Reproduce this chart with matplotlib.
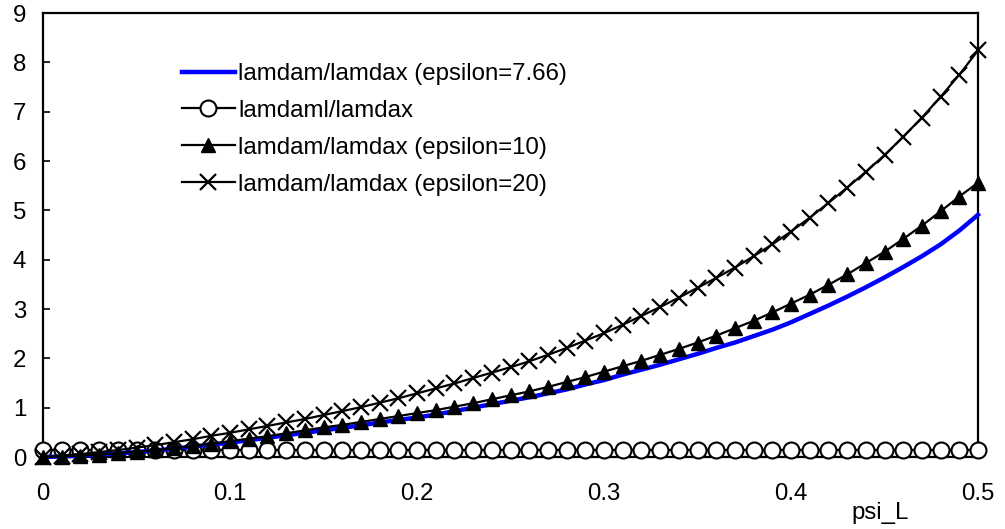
import numpy as np
import matplotlib
matplotlib.use('Agg')
import matplotlib.pyplot as plt

plt.rcParams['font.family'] = ['Liberation Sans', 'DejaVu Sans']

# psi_L grid, step 0.01
psi_L = [0.00, 0.01, 0.02, 0.03, 0.04, 0.05, 0.06, 0.07, 0.08, 0.09,
         0.10, 0.11, 0.12, 0.13, 0.14, 0.15, 0.16, 0.17, 0.18, 0.19,
         0.20, 0.21, 0.22, 0.23, 0.24, 0.25, 0.26, 0.27, 0.28, 0.29,
         0.30, 0.31, 0.32, 0.33, 0.34, 0.35, 0.36, 0.37, 0.38, 0.39,
         0.40, 0.41, 0.42, 0.43, 0.44, 0.45, 0.46, 0.47, 0.48, 0.49, 0.50]

# lamdam/lamdax (epsilon=7.66), blue line
eps766 = [0.00, 0.01, 0.03, 0.05, 0.07, 0.10, 0.13, 0.17, 0.21, 0.25,
          0.29, 0.34, 0.39, 0.44, 0.49, 0.54, 0.59, 0.64, 0.70, 0.75,
          0.80, 0.86, 0.93, 1.00, 1.07, 1.14, 1.21, 1.29, 1.37, 1.47,
          1.56, 1.67, 1.77, 1.87, 1.98, 2.09, 2.21, 2.32, 2.45, 2.58,
          2.73, 2.90, 3.07, 3.25, 3.44, 3.64, 3.85, 4.07, 4.31, 4.59, 4.91]

# lamdaml/lamdax, circles (flat)
lamdaml = [0.14] * 51

# lamdam/lamdax (epsilon=10), triangles
eps10 = [0.00, 0.01, 0.03, 0.05, 0.08, 0.11, 0.14, 0.18, 0.22, 0.27,
         0.32, 0.37, 0.42, 0.48, 0.54, 0.60, 0.65, 0.71, 0.77, 0.83,
         0.89, 0.95, 1.02, 1.09, 1.17, 1.25, 1.33, 1.42, 1.52, 1.62,
         1.73, 1.84, 1.95, 2.07, 2.19, 2.32, 2.46, 2.61, 2.76, 2.93,
         3.11, 3.29, 3.49, 3.70, 3.93, 4.16, 4.42, 4.69, 4.98, 5.28, 5.56]

# lamdam/lamdax (epsilon=20), crosses
eps20 = [0.00, 0.03, 0.06, 0.10, 0.14, 0.19, 0.24, 0.30, 0.36, 0.43,
         0.49, 0.56, 0.63, 0.70, 0.77, 0.85, 0.93, 1.01, 1.10, 1.19,
         1.29, 1.39, 1.49, 1.60, 1.71, 1.82, 1.94, 2.07, 2.21, 2.36,
         2.51, 2.68, 2.86, 3.04, 3.23, 3.43, 3.63, 3.84, 4.07, 4.31,
         4.57, 4.85, 5.15, 5.46, 5.78, 6.12, 6.49, 6.88, 7.30, 7.75, 8.24]

labels = ['lamdam/lamdax (epsilon=7.66)', 'lamdaml/lamdax',
          'lamdam/lamdax (epsilon=10)', 'lamdam/lamdax (epsilon=20)']
xticks = [0, 0.1, 0.2, 0.3, 0.4, 0.5]
xtick_labels = ['0', '0.1', '0.2', '0.3', '0.4', '0.5']
yticks = [0, 1, 2, 3, 4, 5, 6, 7, 8, 9]

fs = 17.3
fig = plt.figure(figsize=(10.05, 5.29), dpi=100)
ax = fig.add_axes([43/1005, 1-457/529, (978-43)/1005, (457-13)/529])

hc, = ax.plot(psi_L, lamdaml, color='black', lw=1.6, marker='o', ms=11.5,
              mfc='white', mec='black', mew=1.5, clip_on=False, zorder=4)
hb, = ax.plot(psi_L, eps766, color='#0000ff', lw=3.2, clip_on=False, zorder=5)
ht, = ax.plot(psi_L, eps10, color='black', lw=1.6, marker='^', ms=9.5,
              mfc='black', mec='black', clip_on=False, zorder=6)
hx, = ax.plot(psi_L, eps20, color='black', lw=1.6, marker='x', ms=11,
              mew=1.6, clip_on=False, zorder=7)

ax.set_xlim(0, 0.5)
ax.set_ylim(0, 9)
ax.set_xticks(xticks)
ax.set_xticklabels(xtick_labels)
ax.set_yticks(yticks)
ax.tick_params(axis='x', length=0, pad=19, labelsize=fs)
ax.tick_params(axis='y', direction='in', length=5, width=1.2, pad=12, labelsize=fs)
for s in ax.spines.values():
    s.set_linewidth(1.6)
    s.set_color('black')

fig.text(880/1005, 1-513/529, 'psi_L', ha='center', va='center', fontsize=fs)

leg = ax.legend([hb, hc, ht, hx], labels, loc='upper left',
                bbox_to_anchor=(182/1005, 1-63/529), bbox_transform=fig.transFigure,
                frameon=False, fontsize=fs, handlelength=2.2, handletextpad=0.15,
                labelspacing=0.62, borderpad=0, borderaxespad=0)

fig.savefig('out.png', dpi=100)
